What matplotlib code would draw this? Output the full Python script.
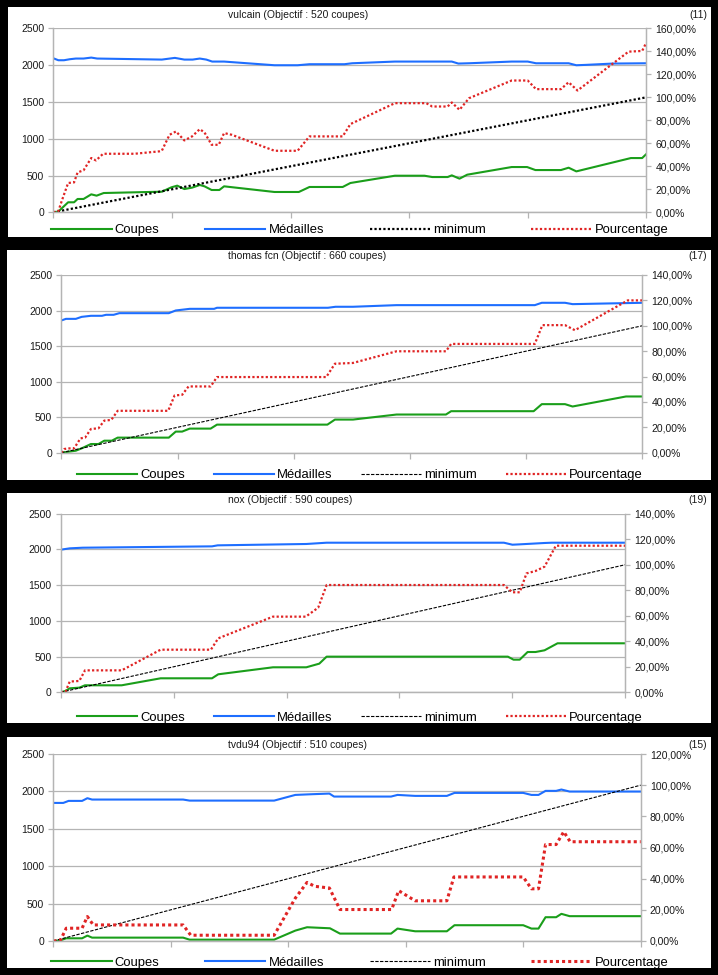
import matplotlib
matplotlib.use("Agg")
import matplotlib.pyplot as plt
from matplotlib.patches import Rectangle
from matplotlib.ticker import MultipleLocator, FuncFormatter

plt.rcParams['font.family'] = ['Liberation Sans', 'DejaVu Sans']

W, H = 718, 975

# ---------------- data (x = position along the period, 0..100) ----------------
# vulcain (11), objectif 520
vulcain_coupes_x = [0, 0.85, 2.5, 3.5, 4.1, 5.1, 6.4, 7.3, 8.5, 18.3, 19.9, 20.9, 22.1, 23.4, 24.7, 25.5, 26.7, 28, 28.8, 37.3,
                    41.4, 43.2, 48.8, 50.1, 57.6, 62.6, 63.9, 66.5, 67.2, 68.5, 69.8, 77.3, 79.9, 81.3, 85.6, 86.9, 88.2, 97.4, 99.3, 100]
vulcain_coupes = [0, 10, 136, 136, 181, 181, 244, 226, 262, 280, 339, 362, 316, 335, 371, 353, 303, 303, 353, 276,
                  276, 344, 344, 398, 497, 497, 479, 479, 502, 457, 511, 615, 615, 574, 574, 606, 556, 737, 737, 791]
vulcain_medailles_x = [0, 0.85, 1.8, 2.8, 3.8, 5.1, 6.4, 7.4, 18.3, 20.5, 22.1, 23.5, 24.7, 25.8, 26.8, 28.8, 37.3, 41.2, 43.2, 49.1,
                       50.4, 57.6, 67.2, 68.3, 70.1, 77.3, 80, 81.4, 86.9, 88.2, 89.8, 94.4, 100]
vulcain_medailles = [2093, 2066, 2066, 2080, 2089, 2089, 2102, 2089, 2075, 2098, 2075, 2075, 2089, 2075, 2048, 2048, 1998, 1998, 2012, 2012,
                     2025, 2048, 2048, 2021, 2025, 2048, 2048, 2025, 2025, 1998, 2003, 2021, 2025]
vulcain_pct_x = [0, 0.85, 1.5, 2.5, 3.5, 4.1, 5.1, 6.4, 7.2, 8.4, 13.7, 17.9, 18.3, 19.6, 20.7, 22.1, 23.4, 24.7, 25.5, 26.7,
                 27.9, 28.8, 30.1, 37.3, 41.2, 43.2, 48.8, 50.1, 57.6, 62.9, 63.9, 66.5, 67.2, 68.5, 70.1, 77.3, 80, 81.4, 85.6, 86.9,
                 88.4, 97, 99.3, 100]
vulcain_pct = [0, 1, 11, 25.5, 26, 34.7, 36.5, 47.2, 45.1, 50.9, 50.9, 53, 53.5, 67.4, 70.3, 62.5, 66, 72.3, 69.4, 58.7,
               58.7, 68.9, 67.4, 53.5, 53.5, 66, 66, 76.7, 94.9, 94.9, 92, 92, 95.5, 89.1, 99.2, 114.6, 114.6, 107.1, 107.1, 113.1,
               105.9, 139.7, 140.3, 147.6]

# thomas fcn (17), objectif 660
thomas_coupes_x = [0, 2.5, 3.5, 5.1, 6.4, 7.4, 8.7, 9.7, 18.5, 19.7, 20.8, 22.1, 25.7, 26.8, 45.8, 47.1, 50.2, 57.7, 66.2, 67.1,
                   81.3, 82.7, 86.7, 88.0, 97.2, 100]
thomas_coupes = [0, 28, 61, 122, 122, 169, 169, 212, 212, 297, 297, 339, 339, 395, 395, 466, 466, 537, 537, 584,
                 584, 683, 683, 650, 791, 791]
thomas_medailles_x = [0, 0.8, 2.5, 3.5, 5.1, 7, 7.7, 9, 10, 18.5, 19.7, 22.1, 26.3, 26.8, 45.9, 47.2, 50.2, 57.7, 81.5, 82.7,
                      86.7, 88.0, 100]
thomas_medailles = [1860, 1883, 1883, 1911, 1926, 1926, 1940, 1940, 1963, 1963, 2001, 2024, 2024, 2039, 2039, 2053, 2053, 2076, 2076, 2109,
                    2109, 2090, 2109]
thomas_pct_x = [0, 0.5, 1.2, 2.2, 3.3, 4.1, 5.1, 6.4, 7.4, 8.6, 9.7, 18.4, 19.5, 20.8, 21.9, 25.7, 26.8, 45.6, 47.1, 50.2,
                57.7, 66.2, 67.1, 81.5, 82.8, 86.7, 88.4, 97.5, 100]
thomas_pct = [0, 2.9, 3.4, 3.4, 11.3, 11.9, 18.7, 19.2, 25.3, 25.8, 33, 33, 45.1, 45.6, 52.2, 52.2, 59.6, 59.6, 70.1, 70.7,
              79.9, 79.9, 85.7, 85.7, 100.5, 100.5, 96.5, 120, 120]

# nox (19), objectif 590
nox_coupes_x = [0, 0.85, 1.6, 3.3, 4.3, 10.8, 17.7, 26.8, 27.9, 37.6, 43.5, 45.8, 47.1, 79.2, 80.2, 81.3, 82.7, 84.1, 85.7, 88.0, 100]
nox_coupes = [0, 19, 56, 65, 98, 98, 196, 196, 252, 350, 350, 401, 499, 499, 457, 457, 564, 564, 588, 686, 686]
nox_medailles_x = [0, 1.6, 3.9, 26.8, 27.8, 43.5, 47.1, 78.5, 80.0, 81.3, 85.7, 87.0, 100]
nox_medailles = [1996, 2015, 2024, 2043, 2057, 2076, 2094, 2094, 2066, 2071, 2090, 2094, 2094]
nox_pct_x = [0, 0.85, 1.6, 3.3, 4.3, 10.8, 17.7, 26.6, 27.9, 37.6, 43.4, 45.6, 47.1, 78.5, 80.0, 81.3, 82.5, 84.1, 85.7, 87.7, 100]
nox_pct = [0, 0.5, 8.4, 8.9, 17.2, 17.2, 33.4, 33.4, 42.3, 59.3, 59.3, 66.3, 84.1, 84.1, 78.4, 78.4, 93.2, 95.1, 98.5, 114.9, 114.9]

# tvdu94 (15), objectif 510
tvdu_coupes_x = [0, 1.2, 2.2, 4.9, 5.8, 6.6, 22.1, 23.2, 37.6, 41.2, 43.2, 47.1, 48.8, 57.5, 58.6, 61.6, 67.0, 68.3, 80.0, 81.4,
                 82.6, 83.8, 85.6, 86.5, 87.9, 100]
tvdu_coupes = [0, 9, 36, 36, 72, 45, 45, 18, 18, 139, 184, 170, 99, 99, 166, 130, 130, 211, 211, 166,
               166, 318, 318, 363, 332, 332]
tvdu_medailles_x = [0, 1.7, 2.6, 4.9, 5.8, 6.6, 22.1, 23.2, 37.6, 41.2, 43.9, 47.0, 47.8, 57.5, 58.6, 61.6, 67.0, 68.3, 80.0, 81.4,
                    82.6, 83.8, 85.6, 86.5, 87.9, 100]
tvdu_medailles = [1846, 1846, 1873, 1873, 1909, 1891, 1891, 1877, 1877, 1953, 1962, 1971, 1931, 1931, 1953, 1940, 1940, 1980, 1980, 1953,
                  1953, 2007, 2007, 2025, 1998, 1998]
tvdu_pct_x = [0, 1.2, 2.2, 4.9, 5.8, 6.8, 22.1, 23.4, 37.6, 41.2, 43.2, 44.5, 47.0, 48.8, 57.6, 58.8, 61.6, 67.0, 68.2, 80.0,
              81.4, 82.6, 83.8, 85.6, 86.9, 88.0, 100]
tvdu_pct = [0, 0.4, 8.2, 8.2, 15.7, 10.3, 10.3, 3.7, 3.7, 27.5, 37.6, 35.1, 34, 20.2, 20.2, 32.3, 25.8, 25.8, 41.1, 41.1,
            33.5, 33.5, 61.9, 61.9, 70.1, 63.7, 63.7]

# minimum goes from 0% at the start to 100% at the end
minimum_x = [0, 100]
minimum = [0, 100]

titles = ["vulcain (Objectif : 520 coupes)", "thomas fcn (Objectif : 660 coupes)",
          "nox (Objectif : 590 coupes)", "tvdu94 (Objectif : 510 coupes)"]
counts = ["(11)", "(17)", "(19)", "(15)"]
pct_max = [160, 140, 140, 120]
labels = ["Coupes", "Médailles", "minimum", "Pourcentage"]

series = [
    (vulcain_coupes_x, vulcain_coupes, vulcain_medailles_x, vulcain_medailles, vulcain_pct_x, vulcain_pct),
    (thomas_coupes_x, thomas_coupes, thomas_medailles_x, thomas_medailles, thomas_pct_x, thomas_pct),
    (nox_coupes_x, nox_coupes, nox_medailles_x, nox_medailles, nox_pct_x, nox_pct),
    (tvdu_coupes_x, tvdu_coupes, tvdu_medailles_x, tvdu_medailles, tvdu_pct_x, tvdu_pct),
]

# ---------------- layout (pixels) ----------------
panel_boxes = [(8, 7, 711, 237), (7, 250, 711, 480), (7, 493, 711, 723), (7, 737, 711, 968)]
plot_boxes = [(53.3, 28.3, 646.3, 212.3), (61.3, 275, 642.3, 452.7), (60.7, 513.7, 625.3, 692.3), (53.3, 754, 640.7, 941)]
title_y = [15, 256, 500, 745]
legend_y = [230, 475, 718, 963]
legend_cs = [3.5, 2.2, 2.2, 3.5]

GREEN = '#1a9e1a'
BLUE = '#1e6eff'
RED = '#e02424'
GRID = '#b4b4b4'
TXT = '#1a1a1a'

fig = plt.figure(figsize=(W / 100, H / 100), dpi=100, facecolor='black')


def pct_fmt(v, p):
    return f"{v:.2f}".replace('.', ',') + '%'


for i in range(4):
    x0, y0, x1, y1 = panel_boxes[i]
    fig.patches.append(Rectangle((x0 / W, 1 - y1 / H), (x1 - x0) / W, (y1 - y0) / H,
                                 transform=fig.transFigure, facecolor='white', edgecolor='none', zorder=-1))
    l, t, r, b = plot_boxes[i]
    ax = fig.add_axes([l / W, 1 - b / H, (r - l) / W, (b - t) / H])
    ax.patch.set_visible(False)
    ax2 = ax.twinx()

    cx, cy, mx, my, px, py = series[i]
    lc, = ax.plot(cx, cy, color=GREEN, lw=1.5, solid_joinstyle='round', label='Coupes')
    lm, = ax.plot(mx, my, color=BLUE, lw=1.5, solid_joinstyle='round', label='Médailles')
    if i == 0:
        lmin, = ax2.plot(minimum_x, minimum, color='black', lw=1.6, linestyle=(0, (1, 1)))
    else:
        lmin, = ax2.plot(minimum_x, minimum, color='black', lw=0.8, linestyle=(0, (3, 1.3)))
    red_lw = 2.2 if i == 3 else 1.6
    lp, = ax2.plot(px, py, color=RED, lw=red_lw, linestyle=(0, (1, 1)))

    ax.set_xlim(0, 100)
    ax.set_xticks(range(0, 101, 20))
    ax.set_ylim(0, 2500)
    ax.yaxis.set_major_locator(MultipleLocator(500))
    ax.grid(axis='y', color=GRID, lw=0.9)
    ax.set_axisbelow(True)
    ax.tick_params(axis='x', length=4.5, width=0.9, color=GRID, labelbottom=False)
    ax.tick_params(axis='y', length=3.5, width=0.9, color=GRID, labelsize=7.5, labelcolor=TXT, pad=3)

    ax2.set_ylim(0, pct_max[i])
    ax2.yaxis.set_major_locator(MultipleLocator(20))
    ax2.yaxis.set_major_formatter(FuncFormatter(pct_fmt))
    ax2.tick_params(axis='y', length=3.5, width=0.9, color=GRID, labelsize=7.5, labelcolor=TXT, pad=3)

    for a in (ax, ax2):
        a.spines['top'].set_visible(False)
        for s in ('left', 'right', 'bottom'):
            a.spines[s].set_color(GRID)
            a.spines[s].set_linewidth(0.9)

    fig.text(228 / W, 1 - title_y[i] / H, titles[i], fontsize=7.5, color=TXT, ha='left', va='center')
    fig.text(707 / W, 1 - title_y[i] / H, counts[i], fontsize=7.5, color=TXT, ha='right', va='center')

    ax2.legend([lc, lm, lmin, lp], labels, loc='center', bbox_to_anchor=(360 / W, 1 - legend_y[i] / H),
               bbox_transform=fig.transFigure, ncol=4, frameon=False, fontsize=9.4,
               handlelength=4.6, handletextpad=0.25, columnspacing=legend_cs[i],
               borderpad=0, borderaxespad=0)

fig.savefig('out.png', dpi=100, facecolor='black')
